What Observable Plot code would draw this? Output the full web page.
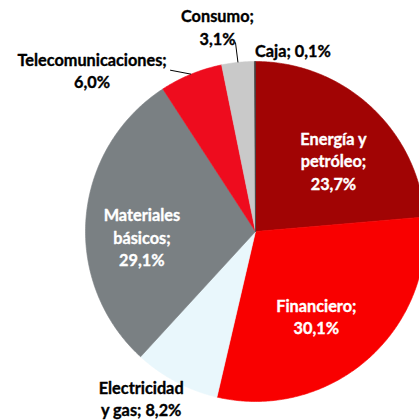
<!DOCTYPE html>
<html>
<head>
<meta charset="utf-8">
<script src="https://cdn.jsdelivr.net/npm/d3@7"></script>
<script src="https://cdn.jsdelivr.net/npm/@observablehq/plot@0.6"></script>
<style>
  html, body { margin: 0; padding: 0; background: #fff; }
  #chart { width: 419px; height: 420px; overflow: hidden; }
</style>
</head>
<body>
<div id="chart"></div>
<script>
// ---- data ----
const sectors = ["Energía y petróleo", "Financiero", "Electricidad y gas", "Materiales básicos", "Telecomunicaciones", "Consumo", "Caja"];
const shares = [23.7, 30.1, 8.2, 29.1, 6.0, 3.1, 0.1];
const labelTexts = ["Energía y\npetróleo;\n23,7%", "Financiero;\n30,1%", "Electricidad\ny gas; 8,2%", "Materiales\nbásicos;\n29,1%", "Telecomunicaciones;\n6,0%", "Consumo;\n3,1%", "Caja; 0,1%"];
const colors = ["#A10404", "#F90000", "#E9F7FC", "#7A8083", "#EE0C1E", "#C9C9C9", "#3A3A3A"];

// ---- layout (not data) ----
const R = 170; // radius in px
const labelLayout = [
  {r: 0.6, dx: 9, dy: 4, fill: "white"},
  {r: 0.6, dx: -6, dy: 7, fill: "white"},
  {r: 1.0, dx: -35, dy: 16, fill: "black"},
  {r: 0.6, dx: -12, dy: 13.5, fill: "white"},
  {r: 1.0, dx: -99, dy: -4, fill: "black", leader: [-21, -4]},
  {r: 1.0, dx: -20.5, dy: -36, fill: "black", leader: [-2.5, -20]},
  {r: 1.0, dx: 38, dy: -12, fill: "black"}
];

const pie = d3.pie().sort(null).value(d => d)(shares);

const polar = (a, r) => ({x: r * Math.sin(a), y: r * Math.cos(a)});

const marks = [];
pie.forEach((p, i) => {
  const pts = [{x: 0, y: 0}];
  const n = Math.max(2, Math.ceil((p.endAngle - p.startAngle) / 0.01));
  for (let k = 0; k <= n; k++) {
    const a = p.startAngle + (p.endAngle - p.startAngle) * k / n;
    pts.push(polar(a, 1));
  }
  pts.push({x: 0, y: 0});
  marks.push(Plot.line(pts, {x: "x", y: "y", fill: colors[i], stroke: colors[i], strokeWidth: 0.6, curve: "linear"}));
});

const labels = pie.map((p, i) => {
  const mid = (p.startAngle + p.endAngle) / 2;
  const c = polar(mid, labelLayout[i].r);
  return {x: c.x, y: c.y, text: labelTexts[i], dx: labelLayout[i].dx, dy: labelLayout[i].dy, fill: labelLayout[i].fill};
});

const leaders = [];
pie.forEach((p, i) => {
  const L = labelLayout[i].leader;
  if (!L) return;
  const mid = (p.startAngle + p.endAngle) / 2;
  const e = polar(mid, 1);
  leaders.push({x1: e.x + L[0] / R, y1: e.y - L[1] / R, x2: e.x, y2: e.y});
});

marks.push(Plot.link(leaders, {x1: "x1", y1: "y1", x2: "x2", y2: "y2", stroke: "black", strokeWidth: 1}));

labels.forEach(l => {
  marks.push(Plot.text([l], {x: "x", y: "y", text: "text", dx: l.dx, dy: l.dy, fill: l.fill,
    stroke: l.fill, strokeWidth: 0.35,
    fontSize: 16.3, fontWeight: "bold", fontFamily: "Lato", lineHeight: 1.36, textAnchor: "middle"}));
});

const chart = Plot.plot({
  width: 419,
  height: 420,
  margin: 0,
  x: {domain: [-1, 1], range: [255 - R, 255 + R], axis: null},
  y: {domain: [-1, 1], range: [231 + R, 231 - R], axis: null},
  style: {background: "white", overflow: "hidden"},
  marks
});
document.getElementById("chart").appendChild(chart);
</script>
</body>
</html>
